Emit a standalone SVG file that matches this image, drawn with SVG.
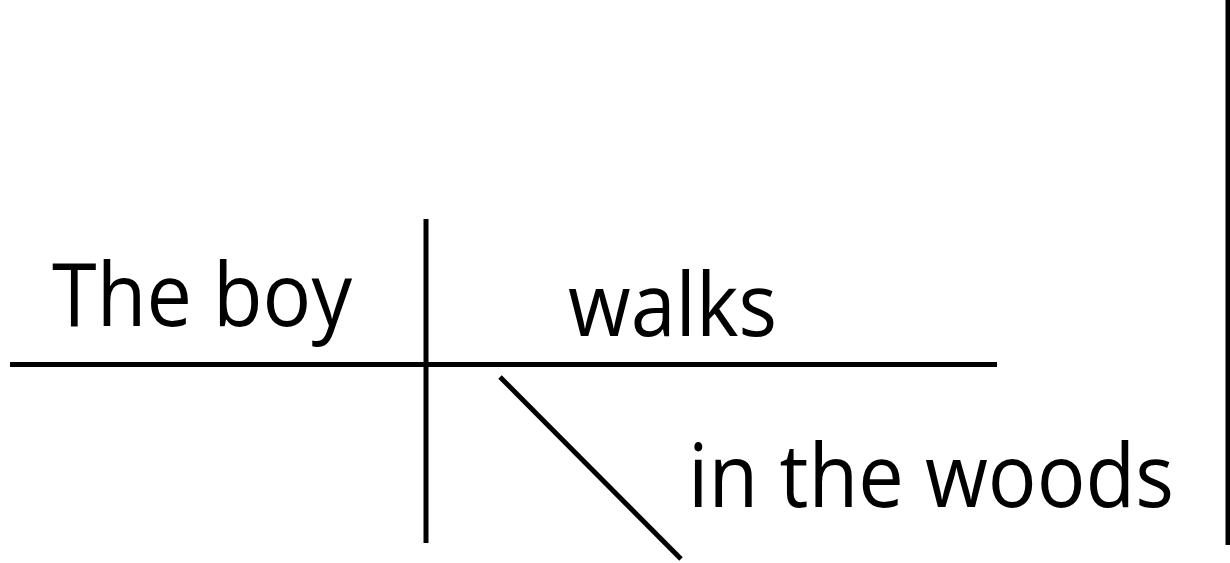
<svg xmlns="http://www.w3.org/2000/svg" width="1230" height="563" viewBox="0 0 1230 563">
<style>
.ln{stroke:#000;stroke-width:5;fill:none}
.t{font-family:"Open Sans","Noto Sans",sans-serif;font-size:87px;fill:#000}
</style>
<rect width="1230" height="563" fill="#fff"/>
<g id="connectors">
<line class="ln" x1="10" y1="364.5" x2="997" y2="364.5"/>
<line class="ln" x1="426" y1="219" x2="426" y2="543"/>
<line class="ln" x1="500" y1="377" x2="681" y2="559"/>
<line class="ln" x1="1228" y1="0" x2="1228" y2="545"/>
</g>
<g id="subject"><text class="t" x="52" y="326" textLength="300" lengthAdjust="spacingAndGlyphs">The boy</text></g>
<g id="verb"><text class="t" x="568" y="336" textLength="209" lengthAdjust="spacingAndGlyphs">walks</text></g>
<g id="modifier"><text class="t" x="688" y="507" textLength="486" lengthAdjust="spacingAndGlyphs">in the woods</text></g>
</svg>
